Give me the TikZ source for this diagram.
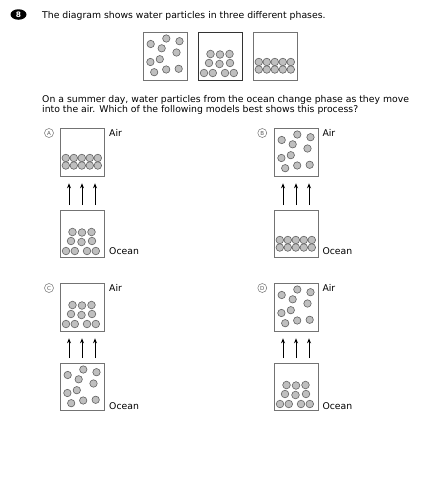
\documentclass[tikz,border=0pt]{standalone}
\usepackage{fontspec}
\setmainfont{DejaVu Sans}
\usetikzlibrary{arrows.meta,shapes.geometric}
\newcommand\gasPat{%
  \foreach \a/\b in {7.7/12, 23.3/6.5, 36.5/9.2, 18.7/16.3, 33.5/20.5, 16.8/27.2, 7.4/30, 11.2/40.2, 23.2/37.5, 35.7/36.8}
    \draw[ptc] (\a,\b) circle[radius=3.7];}
\newcommand\liqPat{%
  \foreach \a/\b in {12.5/22, 22/22.5, 31.5/22, 11/31, 21.5/32, 32/31, 6/41, 14.8/41, 27/41, 35.8/41}
    \draw[ptc] (\a,\b) circle[radius=3.8];}
\newcommand\solPat{%
  \foreach \a in {5.8, 13.8, 21.8, 29.8, 37.8}
    \foreach \b in {30, 37.5}
      \draw[ptc] (\a,\b) circle[radius=3.8];}
\begin{document}
\begin{tikzpicture}[x=1pt,y=-1pt,
  txt/.style={inner sep=0, anchor=base west, font=\fontsize{9.3}{11}\selectfont},
  boxa/.style={draw=black!55, line width=0.8pt, minimum width=44pt, minimum height=48pt, inner sep=0, anchor=north west},
  boxo/.style={boxa, minimum height=47pt},
  ptc/.style={fill=black!25, draw=black!62, line width=0.6pt},
  arr/.style={-{Stealth[length=5pt,width=4pt]}, line width=0.8pt},
  circ/.style={circle, draw=black!55, line width=0.5pt, inner sep=0, minimum size=9pt, text=black!65, font=\fontsize{5.5}{5.5}\selectfont}]
\useasboundingbox (0,0) rectangle (443,493);
\fill[white] (0,0) rectangle (443,493);

% question number
\node[ellipse, fill=black, minimum width=16pt, minimum height=10.5pt, inner sep=0, text=white, font=\fontsize{7.5}{7.5}\selectfont\bfseries] (num) at (18.5,14.5) {8};
\node[txt] (q1) at (42,18.4) {The diagram shows water particles in three different phases.};

% three phases
\node[boxa] (t1) at (143,32) {};
\node[boxa, draw=black!80] (t2) at (198,32) {};
\node[boxa] (t3) at (253,32) {};
\begin{scope}[shift={(t1.north west)}]\gasPat\end{scope}
\begin{scope}[shift={(t2.north west)}]\liqPat\end{scope}
\begin{scope}[shift={(t3.north west)}]\solPat\end{scope}

\node[txt] (q2) at (42,102.3) {On a summer day, water particles from the ocean change phase as they move};
\node[txt] (q3) at (42,112.7) {into the air. Which of the following models best shows this process?};

% option labels
\node[circ] (la) at (49,133) {A};
\node[circ] (lb) at (262.3,133) {B};
\node[circ] (lc) at (49,288) {C};
\node[circ] (ld) at (262.3,288) {D};

% boxes
\node[boxa] (Aair) at (60,128) {};
\node[boxo] (Aoc) at (60,210) {};
\node[boxa] (Bair) at (274,128) {};
\node[boxo] (Boc) at (274,210) {};
\node[boxa] (Cair) at (60,283) {};
\node[boxo] (Coc) at (60,363) {};
\node[boxa] (Dair) at (274,283) {};
\node[boxo] (Doc) at (274,363) {};

\begin{scope}[shift={(Aair.north west)}]\solPat\end{scope}
\begin{scope}[shift={(Aoc.north west)}]\liqPat\end{scope}
\begin{scope}[shift={(Bair.north west)}]\gasPat\end{scope}
\begin{scope}[shift={(Boc.north west)}]\solPat\end{scope}
\begin{scope}[shift={(Cair.north west)}]\liqPat\end{scope}
\begin{scope}[shift={(Coc.north west)}]\gasPat\end{scope}
\begin{scope}[shift={(Dair.north west)}]\gasPat\end{scope}
\begin{scope}[shift={(Doc.north west)}]\liqPat\end{scope}

% labels
\node[txt] (aA) at (109,136.5) {Air};
\node[txt] (oA) at (109,254.5) {Ocean};
\node[txt] (aB) at (322.3,136.5) {Air};
\node[txt] (oB) at (322.3,254.5) {Ocean};
\node[txt] (aC) at (109,291.5) {Air};
\node[txt] (oC) at (109,409.5) {Ocean};
\node[txt] (aD) at (322.3,291.5) {Air};
\node[txt] (oD) at (322.3,409.5) {Ocean};

% arrows
\foreach \o/\a in {Aoc/Aair, Boc/Bair, Coc/Cair, Doc/Dair}
  \foreach \dx in {9,22,35}
    \draw[arr] ([xshift=\dx pt, yshift=5pt]\o.north west) -- ([xshift=\dx pt, yshift=-6.5pt]\a.south west);
\end{tikzpicture}
\end{document}
